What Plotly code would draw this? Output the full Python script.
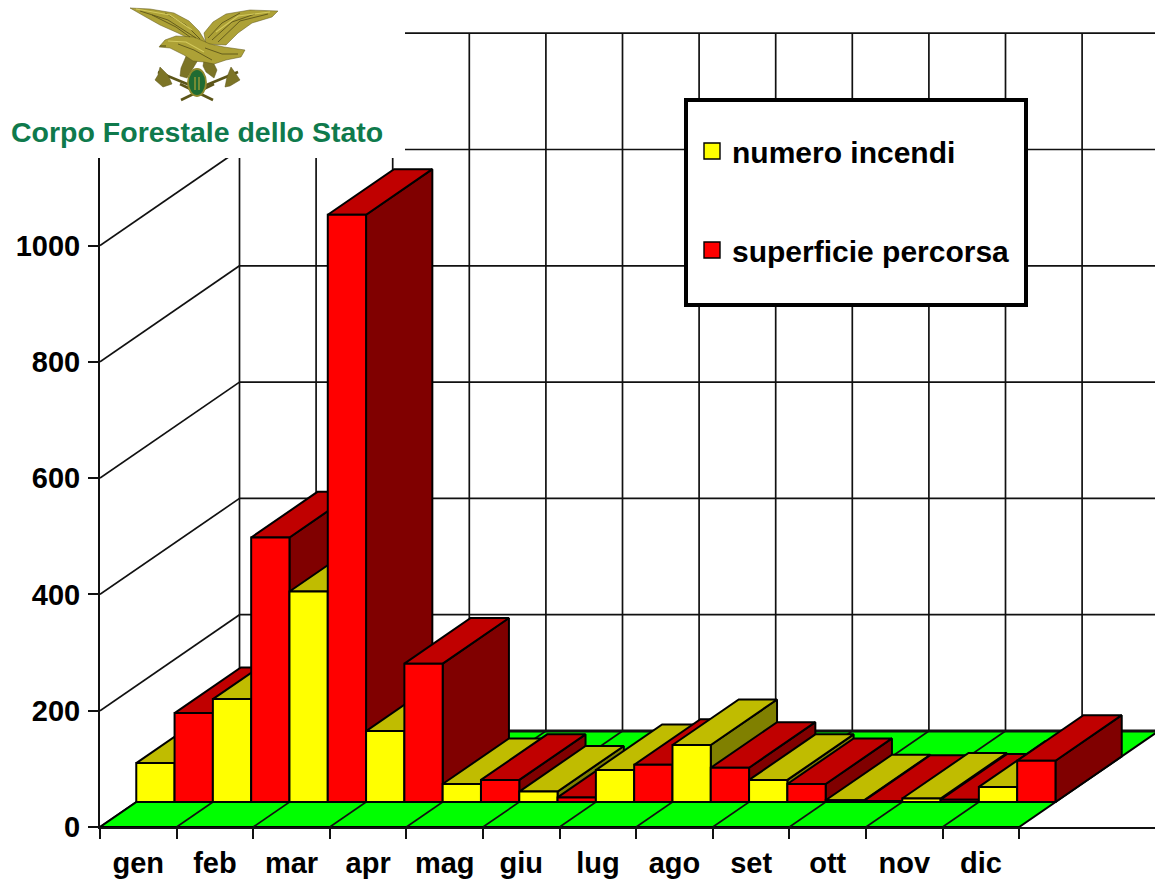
import plotly.graph_objects as go

# Monthly forest fire figures
months = ["gen", "feb", "mar", "apr", "mag", "giu", "lug", "ago", "set", "ott", "nov", "dic"]
numero_incendi = [67, 177, 362, 122, 31, 18, 55, 98, 38, 3, 6, 26]
superficie_percorsa = [153, 455, 1010, 238, 38, 8, 64, 59, 31, 2, 4, 71]
y_ticks = [0, 200, 400, 600, 800, 1000]
wall_levels = [0, 200, 400, 600, 800, 1000, 1200]
series_names = ["numero incendi", "superficie percorsa"]

# Oblique projection: full floor depth expressed in axis units
WIDTH, HEIGHT = 1155, 881
LEFT, BOTTOM = 100, 54
CAT_PX = 76.6
VAL_PX = 0.5815
DEPTH_X = 139.5 / CAT_PX
DEPTH_Y = 96 / VAL_PX
BAR_FRONT = 0.26
BAR_BACK = 0.735

PALETTE = {
    "numero incendi": ("#ffff00", "#c0bc00", "#808000"),
    "superficie percorsa": ("#ff0000", "#c00000", "#800000"),
}
BLACK = "#000000"
LABEL_SIZE = 29


def project(x, y, depth):
    return x + depth * DEPTH_X, y + depth * DEPTH_Y


def polygon(corners, fill):
    xs = [c[0] for c in corners] + [corners[0][0]]
    ys = [c[1] for c in corners] + [corners[0][1]]
    return go.Scatter(
        x=xs, y=ys, mode="lines", fill="toself", fillcolor=fill,
        line=dict(color=BLACK, width=2), showlegend=False, hoverinfo="skip",
    )


def segments(pairs, width):
    xs, ys = [], []
    for a, b in pairs:
        xs += [a[0], b[0], None]
        ys += [a[1], b[1], None]
    return go.Scatter(x=xs, y=ys, mode="lines", line=dict(color="#111111", width=width),
                      showlegend=False, hoverinfo="skip")


n = len(months)
fig = go.Figure()

# Side wall and back wall grid
fig.add_trace(segments(
    [(project(0, v, 0), project(0, v, 1)) for v in wall_levels]
    + [(project(0, v, 1), project(n, v, 1)) for v in wall_levels]
    + [(project(k, 0, 1), project(k, wall_levels[-1], 1)) for k in range(n + 1)],
    1.7,
))

# Floor and its month divisions
fig.add_trace(polygon([project(0, 0, 0), project(n, 0, 0), project(n, 0, 1), project(0, 0, 1)], "#00ff00"))
fig.add_trace(segments([(project(k, 0, 0), project(k, 0, 1)) for k in range(1, n)], 1.7))
fig.add_trace(segments([(project(0, 0, 1), project(n, 0, 1))], 3))

# Bars, painted left to right so each one hides the side of its neighbour
for i in range(n):
    for s, (name, values) in enumerate(zip(series_names, [numero_incendi, superficie_percorsa])):
        front_col, top_col, side_col = PALETTE[name]
        x0, x1 = i + s * 0.5, i + (s + 1) * 0.5
        h = values[i]
        fig.add_trace(polygon([project(x1, 0, BAR_FRONT), project(x1, 0, BAR_BACK),
                               project(x1, h, BAR_BACK), project(x1, h, BAR_FRONT)], side_col))
        fig.add_trace(polygon([project(x0, h, BAR_FRONT), project(x1, h, BAR_FRONT),
                               project(x1, h, BAR_BACK), project(x0, h, BAR_BACK)], top_col))
        fig.add_trace(polygon([project(x0, 0, BAR_FRONT), project(x1, 0, BAR_FRONT),
                               project(x1, h, BAR_FRONT), project(x0, h, BAR_FRONT)], front_col))

# Legend entries
for group, name in enumerate(series_names):
    fig.add_trace(go.Scatter(
        x=[None], y=[None], mode="markers", name=name, legendgroup=str(group),
        marker=dict(symbol="square", size=16, color=PALETTE[name][0],
                    line=dict(color=BLACK, width=1.4)),
    ))


def paper_x(px):
    return (px - LEFT) / (WIDTH - LEFT)


def paper_y(py):
    return (HEIGHT - BOTTOM - py) / (HEIGHT - BOTTOM)


def outline(points, close=True):
    body = " L".join(f"{paper_x(x):.5f},{paper_y(y):.5f}" for x, y in points)
    return "M" + body + (" Z" if close else "")


shapes = [
    # Blank panel behind the emblem
    dict(type="rect", xref="paper", yref="paper", layer="above",
         x0=paper_x(0), x1=paper_x(405), y0=paper_y(158), y1=paper_y(0),
         fillcolor="#ffffff", line=dict(width=0)),
    # Legend frame
    dict(type="rect", xref="paper", yref="paper", layer="above",
         x0=paper_x(686), x1=paper_x(1026), y0=paper_y(305), y1=paper_y(100),
         fillcolor="#ffffff", line=dict(color=BLACK, width=4)),
]

# Emblem: eagle over crossed axes and a medallion
GOLD, GOLD_DARK, GOLD_DEEP, GOLD_LIGHT = "#ada136", "#7c7426", "#5c5518", "#d3c95c"


def emblem_fill(points, colour, edge=0.5):
    shapes.append(dict(type="path", xref="paper", yref="paper", layer="above",
                       path=outline(points), fillcolor=colour, line=dict(color=GOLD_DEEP, width=edge)))


def emblem_line(points, colour, width):
    shapes.append(dict(type="path", xref="paper", yref="paper", layer="above",
                       path=outline(points, close=False), line=dict(color=colour, width=width)))


# Legs and handles go under the body
emblem_line([(158, 72), (192, 86)], GOLD_DEEP, 2.5)
emblem_line([(238, 72), (204, 86)], GOLD_DEEP, 2.5)
emblem_line([(181, 100), (214, 84)], GOLD_DEEP, 2.6)
emblem_line([(213, 100), (180, 84)], GOLD_DEEP, 2.6)
emblem_fill([(187, 54), (198, 60), (192, 70), (187, 78), (180, 76), (181, 68)], GOLD_DARK)
emblem_fill([(204, 60), (213, 62), (217, 70), (214, 78), (206, 72), (203, 66)], GOLD_DARK)
# Axe blades
emblem_fill([(160, 67), (168, 75), (172, 84), (163, 87), (155, 80), (158, 75)], GOLD_DARK)
emblem_fill([(231, 67), (236, 74), (240, 80), (230, 86), (225, 87), (227, 77)], GOLD_DARK)
# Wings
emblem_fill([(130, 8), (150, 9), (174, 13), (189, 21), (199, 31), (207, 44), (196, 42), (178, 33),
             (160, 25), (144, 16)], GOLD)
emblem_fill([(278, 11), (272, 17), (252, 23), (238, 33), (226, 45), (206, 44), (204, 33), (213, 22),
             (226, 14), (250, 10)], GOLD)
# Body, head and tail
emblem_fill([(159, 47), (165, 40), (176, 36), (194, 37), (210, 44), (224, 47), (245, 50), (241, 57),
             (226, 60), (214, 64), (204, 62), (193, 61), (184, 55), (170, 48)], GOLD)
# Feather texture
for pts in [[(140, 11), (168, 20), (196, 38)], [(152, 15), (176, 27), (190, 37)], [(165, 13), (186, 25), (200, 39)],
            [(268, 14), (240, 21), (218, 42)], [(255, 14), (232, 22), (212, 40)], [(240, 13), (222, 23), (208, 38)],
            [(178, 44), (194, 50), (212, 60)], [(205, 48), (222, 54), (238, 54)]]:
    emblem_line(pts, GOLD_DEEP, 0.9)
for pts in [[(136, 9), (170, 15), (192, 30)], [(270, 12), (238, 16), (216, 32)], [(168, 41), (186, 42), (204, 52)]]:
    emblem_line(pts, GOLD_LIGHT, 1.1)
emblem_line([(160, 46), (166, 46)], GOLD_DEEP, 1.2)

# Medallion
shapes.append(dict(type="circle", xref="paper", yref="paper", layer="above",
                   x0=paper_x(188), x1=paper_x(206), y0=paper_y(96), y1=paper_y(69),
                   fillcolor="#1f6b32", line=dict(color="#8f8a2c", width=1.8)))
emblem_line([(195, 77), (195, 90)], GOLD, 1.2)
emblem_line([(199, 77), (199, 90)], GOLD, 1.2)

fig.update_layout(
    width=WIDTH, height=HEIGHT, autosize=False,
    margin=dict(l=LEFT, r=0, t=0, b=BOTTOM, pad=0, autoexpand=False),
    paper_bgcolor="#ffffff", plot_bgcolor="#ffffff",
    font=dict(family="Liberation Sans", size=LABEL_SIZE, color=BLACK),
    shapes=shapes,
    legend=dict(
        x=paper_x(692), y=paper_y(125), xanchor="left", yanchor="top",
        bgcolor="rgba(0,0,0,0)", borderwidth=0, tracegroupgap=57,
        font=dict(family="Liberation Sans", size=30, weight="bold", color=BLACK),
        itemclick=False, itemdoubleclick=False,
    ),
    annotations=[dict(
        text="<b>Corpo Forestale dello Stato</b>", xref="paper", yref="paper",
        x=paper_x(197), y=paper_y(132), xanchor="center", yanchor="middle",
        showarrow=False, font=dict(family="Liberation Sans", size=28.5, color="#0f7a4c"),
    )],
    xaxis=dict(
        automargin=False,
        range=[0, (WIDTH - LEFT) / CAT_PX], showgrid=False, zeroline=False,
        showline=True, linecolor="#111111", linewidth=2,
        tickmode="array", tickvals=[i + 0.5 for i in range(n)], ticktext=months,
        ticks="", ticklabelstandoff=9,
        tickfont=dict(family="Liberation Sans", size=LABEL_SIZE, weight="bold", color=BLACK),
        minor=dict(tickmode="array", tickvals=list(range(n + 1)), ticks="outside",
                   ticklen=10, tickwidth=1.5, tickcolor="#111111", showgrid=False),
    ),
    yaxis=dict(
        automargin=False,
        range=[0, (HEIGHT - BOTTOM) / VAL_PX], showgrid=False, zeroline=False,
        showline=True, linecolor="#111111", linewidth=2,
        tickmode="array", tickvals=y_ticks, ticks="outside", ticklen=10, tickwidth=1.5,
        tickcolor="#111111", ticklabelstandoff=2,
        tickfont=dict(family="Liberation Sans", size=LABEL_SIZE, weight="bold", color=BLACK),
    ),
)

fig.write_html("out.html", config=dict(displayModeBar=False))
